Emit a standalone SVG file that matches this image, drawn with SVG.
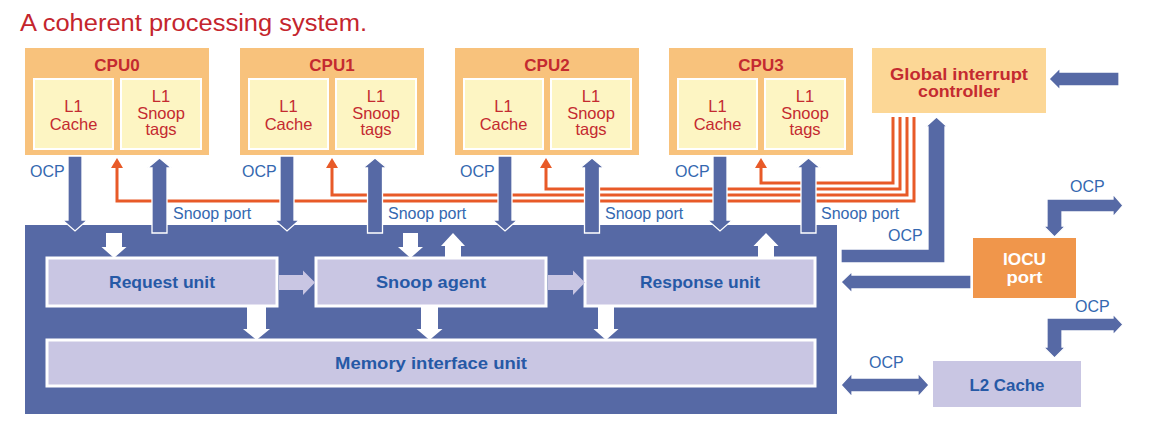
<svg xmlns="http://www.w3.org/2000/svg" width="1149" height="423" viewBox="0 0 1149 423">
<style>
.bg{fill:#ffffff}
.cpu{fill:#F8C27C}
.inner{fill:#FDF5C3;stroke:#ffffff;stroke-width:2}
.gic{fill:#FCD796}
.iocu{fill:#F0964B}
.lav{fill:#C9C6E3;stroke:#ffffff;stroke-width:3}
.lavnb{fill:#C9C6E3}
.main{fill:#5669A5}
.barrow{fill:#5669A5;stroke:#ffffff;stroke-width:1.3;stroke-linejoin:miter}
.warrow{fill:#ffffff}
.larrow{fill:#C9C6E3}
.oline{fill:none;stroke:#E85A28;stroke-width:3}
.title{font-family:"Liberation Sans",Arial,sans-serif;font-size:23px;fill:#C4252D}
.cpuT{font-family:"Liberation Sans",Arial,sans-serif;font-size:17px;font-weight:bold;fill:#C42A30;text-anchor:middle}
.l1{font-family:"Liberation Sans",Arial,sans-serif;font-size:16.5px;fill:#C42A30;text-anchor:middle}
.lbl{font-family:"Liberation Sans",Arial,sans-serif;font-size:16px;fill:#3468B0}
.unit{font-family:"Liberation Sans",Arial,sans-serif;font-size:17px;font-weight:bold;fill:#2659A6;text-anchor:middle}
.wt{font-family:"Liberation Sans",Arial,sans-serif;font-size:17px;font-weight:bold;fill:#ffffff;text-anchor:middle}
</style>
<defs>
<marker id="oa" viewBox="0 -6 10 12" refX="0" refY="0" markerWidth="10" markerHeight="12" markerUnits="userSpaceOnUse" orient="auto">
<path d="M0,-6 L10,0 L0,6 Z" fill="#E85A28"/>
</marker>
</defs>
<rect class="bg" x="0" y="0" width="1149" height="423"/>
<text class="title" x="20" y="31" textLength="347" lengthAdjust="spacingAndGlyphs">A coherent processing system.</text>

<g id="cpu0">
<rect class="cpu" x="25" y="48" width="184" height="107"/>
<text class="cpuT" x="117" y="71">CPU0</text>
<rect class="inner" x="34" y="79" width="79" height="70"/>
<rect class="inner" x="121" y="79" width="80" height="70"/>
<text class="l1" x="73.5" y="112">L1</text><text class="l1" x="73.5" y="130">Cache</text>
<text class="l1" x="161" y="102">L1</text><text class="l1" x="161" y="119">Snoop</text><text class="l1" x="161" y="135">tags</text>
</g>
<g id="cpu1">
<rect class="cpu" x="240" y="48" width="184" height="107"/>
<text class="cpuT" x="332" y="71">CPU1</text>
<rect class="inner" x="249" y="79" width="79" height="70"/>
<rect class="inner" x="336" y="79" width="80" height="70"/>
<text class="l1" x="288.5" y="112">L1</text><text class="l1" x="288.5" y="130">Cache</text>
<text class="l1" x="376" y="102">L1</text><text class="l1" x="376" y="119">Snoop</text><text class="l1" x="376" y="135">tags</text>
</g>
<g id="cpu2">
<rect class="cpu" x="455" y="48" width="184" height="107"/>
<text class="cpuT" x="547" y="71">CPU2</text>
<rect class="inner" x="464" y="79" width="79" height="70"/>
<rect class="inner" x="551" y="79" width="80" height="70"/>
<text class="l1" x="503.5" y="112">L1</text><text class="l1" x="503.5" y="130">Cache</text>
<text class="l1" x="591" y="102">L1</text><text class="l1" x="591" y="119">Snoop</text><text class="l1" x="591" y="135">tags</text>
</g>
<g id="cpu3">
<rect class="cpu" x="669" y="48" width="184" height="107"/>
<text class="cpuT" x="761" y="71">CPU3</text>
<rect class="inner" x="678" y="79" width="79" height="70"/>
<rect class="inner" x="765" y="79" width="80" height="70"/>
<text class="l1" x="717.5" y="112">L1</text><text class="l1" x="717.5" y="130">Cache</text>
<text class="l1" x="805" y="102">L1</text><text class="l1" x="805" y="119">Snoop</text><text class="l1" x="805" y="135">tags</text>
</g>
<g id="gic">
<rect class="gic" x="872" y="48" width="174" height="65"/>
<text class="cpuT" x="959" y="80" textLength="138" lengthAdjust="spacingAndGlyphs">Global interrupt</text>
<text class="cpuT" x="959" y="97" textLength="82" lengthAdjust="spacingAndGlyphs">controller</text>
</g>
<g id="iocu">
<rect class="iocu" x="973" y="238" width="103" height="60"/>
<text class="wt" x="1024.5" y="265" textLength="43" lengthAdjust="spacingAndGlyphs">IOCU</text>
<text class="wt" x="1024.5" y="283" textLength="36" lengthAdjust="spacingAndGlyphs">port</text>
</g>
<g id="l2">
<rect class="lavnb" x="933" y="361" width="148" height="46"/>
<text class="unit" x="1007" y="391" textLength="75" lengthAdjust="spacingAndGlyphs">L2 Cache</text>
</g>
<g id="coherence-manager">
<rect class="main" x="25" y="225" width="812" height="189"/>
</g>
<g id="request-unit">
<rect class="lav" x="47" y="258" width="230" height="48"/>
<text class="unit" x="162" y="288" textLength="106" lengthAdjust="spacingAndGlyphs">Request unit</text>
</g>
<g id="snoop-agent">
<rect class="lav" x="316" y="258" width="230" height="48"/>
<text class="unit" x="431" y="288" textLength="110" lengthAdjust="spacingAndGlyphs">Snoop agent</text>
</g>
<g id="response-unit">
<rect class="lav" x="585" y="258" width="230" height="48"/>
<text class="unit" x="700" y="288" textLength="120" lengthAdjust="spacingAndGlyphs">Response unit</text>
</g>
<g id="memory-interface-unit">
<rect class="lav" x="47" y="340" width="768" height="46"/>
<text class="unit" x="431" y="369" textLength="192" lengthAdjust="spacingAndGlyphs">Memory interface unit</text>
</g>

<g id="connectors">
<!-- interrupt lines -->
<path class="oline" d="M914 117 V201 H117 V168" marker-end="url(#oa)"/>
<path class="oline" d="M907 117 V195 H332 V168" marker-end="url(#oa)"/>
<path class="oline" d="M900 117 V189 H546 V168" marker-end="url(#oa)"/>
<path class="oline" d="M893 117 V183 H761 V168" marker-end="url(#oa)"/>
<!-- OCP down arrows from CPUs -->
<path class="barrow" d="M68 156 V220 H62.5 L75 231 L87.5 220 H82 V156 Z"/>
<path class="barrow" d="M280 156 V220 H274.5 L287 231 L299.5 220 H294 V156 Z"/>
<path class="barrow" d="M498 156 V220 H492.5 L505 231 L517.5 220 H512 V156 Z"/>
<path class="barrow" d="M713 156 V220 H707.5 L720 231 L732.5 220 H727 V156 Z"/>
<!-- snoop port up arrows -->
<path class="barrow" d="M152 233 V168 H147.5 L159.5 158 L171.5 168 H167 V233 Z"/>
<path class="barrow" d="M367.5 233 V168 H363 L375 158 L387 168 H382.5 V233 Z"/>
<path class="barrow" d="M584.5 233 V168 H580 L592 158 L604 168 H599.5 V233 Z"/>
<path class="barrow" d="M801 233 V168 H796.5 L808.5 158 L820.5 168 H816 V233 Z"/>
<!-- internal white arrows -->
<path class="warrow" d="M106 233 V247 H101.5 L114 258 L126.5 247 H122 V233 Z"/>
<path class="warrow" d="M403 233 V247 H398 L410.5 258 L423 247 H418 V233 Z"/>
<path class="warrow" d="M445 258 V246 H441 L453 233 L465 246 H461 V258 Z"/>
<path class="warrow" d="M758 258 V246 H753.5 L766 233 L778.5 246 H774 V258 Z"/>
<path class="warrow" d="M247 307 V329 H243 L256.5 340 L270 329 H266 V307 Z"/>
<path class="warrow" d="M421 307 V329 H416.5 L429.5 340 L442.5 329 H438 V307 Z"/>
<path class="warrow" d="M598 307 V329 H593.5 L606 340 L618.5 329 H614 V307 Z"/>
<!-- lavender arrows between units -->
<path class="larrow" d="M279 275 H303 V270.5 L315 282.5 L303 295 V290 H279 Z"/>
<path class="larrow" d="M548 275 H573 V270.5 L585 282.5 L573 295 V290 H548 Z"/>
<!-- right side arrows -->
<path class="barrow" d="M1119 72 H1060 V68 L1049 79 L1060 90 V86 H1119 Z"/>
<path class="barrow" d="M841 249 H928 V127 H925.5 L936.5 117 L947.5 127 H945 V263 H841 Z"/>
<path class="barrow" d="M971 275 H852 V271.5 L841 282 L852 293 V289 H971 Z"/>
<path class="barrow" d="M1047 226 V199 H1113 V194 L1123 205.5 L1113 217 V212 H1062 V226 H1065.5 L1054.5 237 L1043.5 226 Z"/>
<path class="barrow" d="M1047 347 V318 H1113 V314 L1123 324.5 L1113 335 V331 H1062 V347 H1065.5 L1054.5 358 L1043.5 347 Z"/>
<path class="barrow" d="M841 385 L852 373 V378 H918 V373 L929 385 L918 397 V392 H852 V397 Z"/>
<!-- labels -->
<text class="lbl" x="30" y="177">OCP</text>
<text class="lbl" x="242" y="177">OCP</text>
<text class="lbl" x="460" y="177">OCP</text>
<text class="lbl" x="675" y="177">OCP</text>
<text class="lbl" x="173" y="219">Snoop port</text>
<text class="lbl" x="388" y="219">Snoop port</text>
<text class="lbl" x="605" y="219">Snoop port</text>
<text class="lbl" x="821" y="219">Snoop port</text>
<text class="lbl" x="888" y="241">OCP</text>
<text class="lbl" x="1070" y="192">OCP</text>
<text class="lbl" x="1075" y="312">OCP</text>
<text class="lbl" x="869" y="368">OCP</text>
</g>
</svg>
